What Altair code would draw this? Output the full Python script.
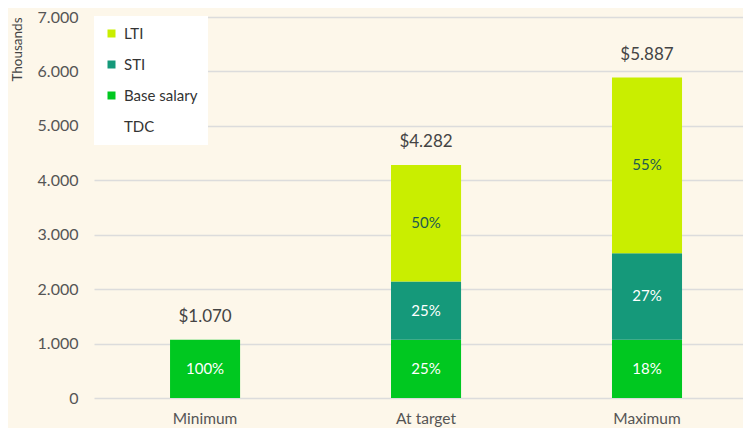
import altair as alt
import pandas as pd

categories = ["Minimum", "At target", "Maximum"]
base_salary = [1070, 1070, 1070]
sti = [0, 1070, 1590]
lti = [0, 2142, 3227]
base_pct = ["100%", "25%", "18%"]
sti_pct = ["", "25%", "27%"]
lti_pct = ["", "50%", "55%"]
totals = [1070, 4282, 5887]
total_labels = ["$1.070", "$4.282", "$5.887"]
y_ticks = [0, 1000, 2000, 3000, 4000, 5000, 6000, 7000]
series = ["LTI", "STI", "Base salary", "TDC"]
colors = ["#c9ee00", "#15997a", "#00c820", "transparent"]

FONT = "Lato"

rows = []
for i, c in enumerate(categories):
    rows.append(dict(category=c, series="Base salary", value=base_salary[i], pct=base_pct[i], ord=0, tcolor="#ffffff"))
    rows.append(dict(category=c, series="STI", value=sti[i], pct=sti_pct[i], ord=1, tcolor="#ffffff"))
    rows.append(dict(category=c, series="LTI", value=lti[i], pct=lti_pct[i], ord=2, tcolor="#1d5a50"))
df = pd.DataFrame(rows)
tot = pd.DataFrame(dict(category=categories, total=totals, label=total_labels))

xscale = alt.Scale(paddingInner=0.683, paddingOuter=0.31, align=0.555)
xenc = alt.X("category:N", sort=categories, scale=xscale,
             axis=alt.Axis(title=None, labelAngle=0, ticks=False, domain=False,
                           labelFontSize=15.5, labelColor="#555555", labelPadding=13, labelFont=FONT))
yscale = alt.Scale(domain=[0, 7000], nice=False)

stacked = alt.Chart(df).transform_stack(
    stack="value", groupby=["category"], sort=[alt.SortField("ord", "ascending")], as_=["y0", "y1"]
).transform_calculate(mid="(datum.y0 + datum.y1) / 2")

bars = stacked.mark_bar().encode(
    x=xenc,
    y=alt.Y("y0:Q", scale=yscale,
            axis=alt.Axis(values=y_ticks, title="Thousands", labelExpr="replace(format(datum.value, ','), ',', '.')",
                          ticks=False, domain=False, gridColor="#dcdcdc", gridWidth=1.5,
                          labelFontSize=16, labelColor="#555555", labelPadding=16, labelFont=FONT,
                          titleFont=FONT, titleFontSize=13.5, titleFontWeight="normal", titleColor="#444444",
                          titleAnchor="end", titleX=-77, titleY=0, titleAlign="right", titleBaseline="middle",
                          titleAngle=270)),
    y2="y1:Q",
    color=alt.Color("series:N", scale=alt.Scale(domain=series, range=colors), title=None,
                    legend=alt.Legend(orient="none", legendX=0, legendY=-1, fillColor="#ffffff",
                                      padding=10, symbolType="square", symbolSize=64, symbolStrokeWidth=0,
                                      labelFontSize=15, labelColor="#333333", labelFont=FONT,
                                      rowPadding=15, labelOffset=5)),
)

pct_text = stacked.mark_text(font=FONT, fontSize=15).encode(
    x=xenc,
    y=alt.Y("mid:Q", scale=yscale),
    text="pct:N",
    color=alt.Color("tcolor:N", scale=None),
)

tot_text = alt.Chart(tot).mark_text(font=FONT, fontSize=17, color="#444444", baseline="bottom", dy=-14).encode(
    x=xenc,
    y=alt.Y("total:Q", scale=yscale),
    text="label:N",
)

chart = alt.layer(bars, pct_text, tot_text).properties(
    width=649, height=381,
    padding={"left": 86, "top": 9, "right": 0, "bottom": 30},
    autosize=alt.AutoSizeParams(type="none"),
    background="#fdf7ea",
).configure_view(stroke=None)

chart.save("out.html", embed_options={"renderer": "svg", "actions": False})
